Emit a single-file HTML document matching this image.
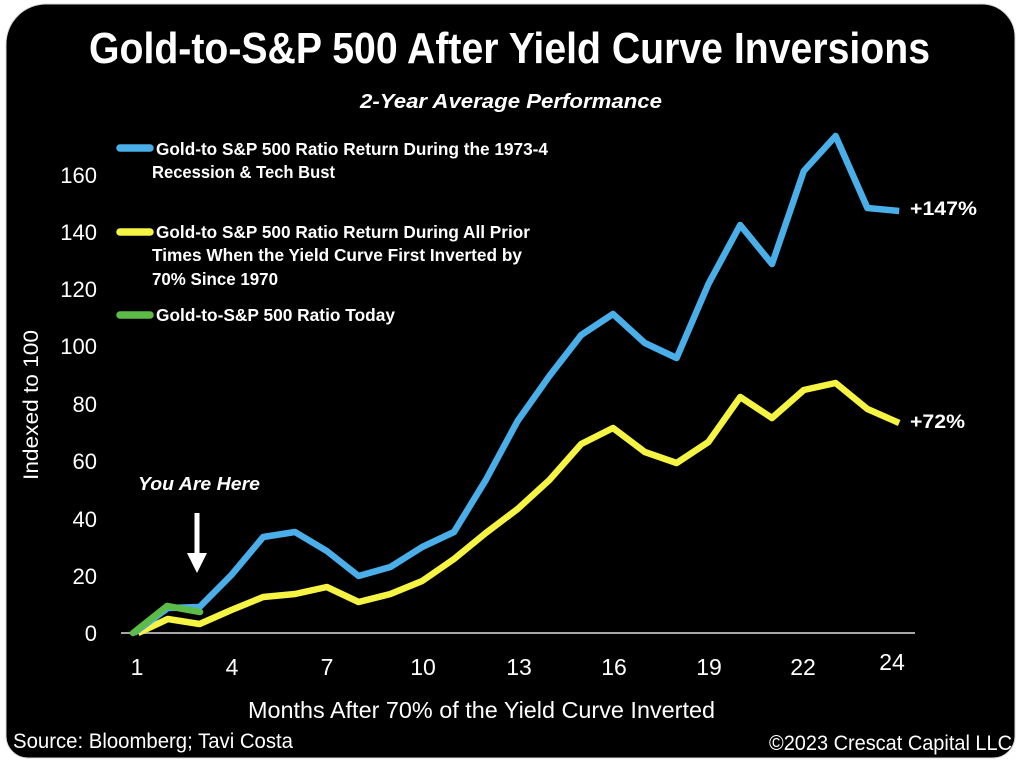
<!DOCTYPE html>
<html>
<head>
<meta charset="utf-8">
<style>
  html, body { margin: 0; padding: 0; background: #ffffff; }
  body { width: 1024px; height: 765px; overflow: hidden; }
  svg { display: block; }
  text { font-family: "Liberation Sans", Arial, sans-serif; fill: #ffffff; }
  .b { font-weight: bold; }
</style>
</head>
<body>
<svg width="1024" height="765" viewBox="0 0 1024 765" xmlns="http://www.w3.org/2000/svg">
  <rect x="0" y="0" width="1024" height="765" fill="#ffffff"/>
  <path d="M 46 4 H 982 A 33 33 0 0 1 1015 37 V 736 A 22 22 0 0 1 993 758 H 28 A 22 22 0 0 1 6 736 V 44 A 40 40 0 0 1 46 4 Z" fill="#000000" stroke="#d8d8d8" stroke-width="1"/>

  <!-- Title -->
  <text class="b" x="89" y="63" font-size="44" textLength="841" lengthAdjust="spacingAndGlyphs">Gold-to-S&amp;P 500 After Yield Curve Inversions</text>
  <text class="b" x="360" y="108" font-size="20" font-style="italic" textLength="302" lengthAdjust="spacingAndGlyphs">2-Year Average Performance</text>

  <!-- Legend -->
  <line x1="120" y1="148" x2="150" y2="148" stroke="#4aaee8" stroke-width="7.5" stroke-linecap="round"/>
  <text class="b" x="156" y="155" font-size="17.5" textLength="392" lengthAdjust="spacingAndGlyphs">Gold-to S&amp;P 500 Ratio Return During the 1973-4</text>
  <text class="b" x="152" y="178" font-size="17.5" textLength="183" lengthAdjust="spacingAndGlyphs">Recession &amp; Tech Bust</text>

  <line x1="120" y1="232" x2="150" y2="232" stroke="#f6f443" stroke-width="7.5" stroke-linecap="round"/>
  <text class="b" x="156" y="238" font-size="17.5" textLength="374" lengthAdjust="spacingAndGlyphs">Gold-to S&amp;P 500 Ratio Return During All Prior</text>
  <text class="b" x="152" y="261" font-size="17.5" textLength="370" lengthAdjust="spacingAndGlyphs">Times When the Yield Curve First Inverted by</text>
  <text class="b" x="152" y="285" font-size="17.5" textLength="126" lengthAdjust="spacingAndGlyphs">70% Since 1970</text>

  <line x1="120" y1="315" x2="150" y2="315" stroke="#5dbb47" stroke-width="7.5" stroke-linecap="round"/>
  <text class="b" x="156" y="321" font-size="17.5" textLength="239" lengthAdjust="spacingAndGlyphs">Gold-to-S&amp;P 500 Ratio Today</text>

  <!-- Y tick labels -->
  <g font-size="22" text-anchor="end">
    <text x="97" y="183">160</text>
    <text x="97" y="240">140</text>
    <text x="97" y="297">120</text>
    <text x="97" y="354">100</text>
    <text x="97" y="412">80</text>
    <text x="97" y="469">60</text>
    <text x="97" y="527">40</text>
    <text x="97" y="584">20</text>
    <text x="97" y="641">0</text>
  </g>
  <text x="0" y="0" font-size="21" text-anchor="middle" transform="translate(38,405) rotate(-90)" textLength="150" lengthAdjust="spacingAndGlyphs">Indexed to 100</text>

  <!-- X tick labels -->
  <g font-size="23" text-anchor="middle">
    <text x="137" y="675">1</text>
    <text x="232" y="675">4</text>
    <text x="327" y="675">7</text>
    <text x="423" y="675">10</text>
    <text x="519" y="675">13</text>
    <text x="614" y="675">16</text>
    <text x="709" y="675">19</text>
    <text x="803" y="675">22</text>
    <text x="892" y="670">24</text>
  </g>
  <text x="248" y="718" font-size="23" textLength="467" lengthAdjust="spacingAndGlyphs">Months After 70% of the Yield Curve Inverted</text>

  <!-- Axis line -->
  <line x1="121" y1="633" x2="915" y2="633" stroke="#a6a6a6" stroke-width="2"/>

  <!-- Series -->
  <polyline fill="none" stroke="#f6f443" stroke-width="6.5" stroke-linejoin="round" stroke-linecap="butt"
    points="138,633 167.8,619 199.6,624 231.4,610 263.2,597 295,594 326.8,587 358.6,602 390.4,594 422.2,581 454,559 485.8,533 517.6,509 549.4,480 581.2,444 613,428 644.8,452 676.6,463 708.4,442 740.2,397 772,418 803.8,390 835.6,383 867.4,409 899.2,423"/>
  <polyline fill="none" stroke="#4aaee8" stroke-width="6.5" stroke-linejoin="round" stroke-linecap="butt"
    points="134,633 167.8,608 199.6,607 231.4,575 263.2,537 295,532 326.8,551 358.6,576 390.4,567 422.2,547 454,532 485.8,480 517.6,421 549.4,376 581.2,335 613,314 644.8,343 676.6,358 708.4,284 740.2,225 772,264 803.8,171 835.6,136 867.4,208 899.2,211"/>
  <polyline fill="none" stroke="#5dbb47" stroke-width="6.5" stroke-linejoin="round" stroke-linecap="round"
    points="133,633 167,606 200,612"/>

  <!-- End labels -->
  <text class="b" x="910" y="215" font-size="19" textLength="67" lengthAdjust="spacingAndGlyphs">+147%</text>
  <text class="b" x="910" y="428" font-size="19" textLength="55" lengthAdjust="spacingAndGlyphs">+72%</text>

  <!-- You Are Here -->
  <text class="b" x="138" y="490" font-size="18" font-style="italic" textLength="122" lengthAdjust="spacingAndGlyphs">You Are Here</text>
  <rect x="194.5" y="513" width="5" height="42" fill="#ffffff"/>
  <polygon points="187,553 207,553 197,573" fill="#ffffff"/>

  <!-- Footer -->
  <text x="13" y="748" font-size="21" textLength="280" lengthAdjust="spacingAndGlyphs">Source: Bloomberg; Tavi Costa</text>
  <text x="769" y="750" font-size="21" textLength="243" lengthAdjust="spacingAndGlyphs">©2023 Crescat Capital LLC</text>
</svg>
</body>
</html>
